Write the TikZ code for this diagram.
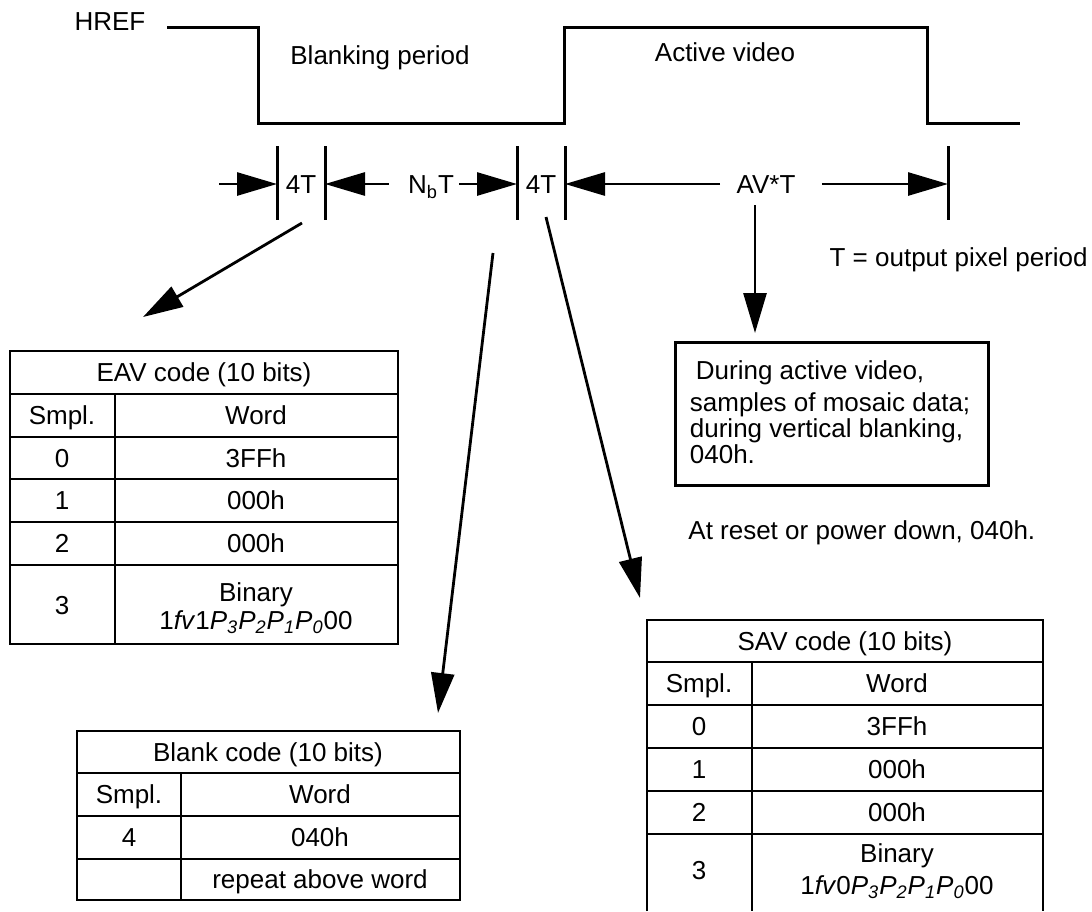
\documentclass[tikz,border=0pt]{standalone}
\usepackage{fontspec}
\setmainfont{Liberation Sans}
\usepackage{tikz}
\usetikzlibrary{arrows.meta,positioning,calc}

\newcommand{\pbit}[1]{\textit{P}\textsubscript{\textit{#1}}}

\begin{document}
\begin{tikzpicture}[
    x=0.5pt, y=-0.5pt,
    wave/.style={line width=1.5pt},
    tick/.style={line width=1.5pt},
    arrow/.style={-{Triangle[length=20pt,width=11.5pt]}, line width=1.4pt},
    grid/.style={line width=1.2pt},
    label/.style={inner sep=0pt, font=\fontsize{13}{14}\selectfont, text height=9.3pt, text depth=0pt},
    cell/.style={label, align=center},
    note/.style={inner sep=0pt, font=\fontsize{13}{13}\selectfont, align=left, anchor=north west}
]
\useasboundingbox (0,0) rectangle (1092,911);

% HREF waveform
\node[label] (href) at (110,21) {HREF};
\draw[wave] (167,27) -- (258,27) -- (258,123) -- (564,123) -- (564,27) -- (927,27) -- (927,123) -- (1020,123);
\node[label] (blanking) at (380,55) {Blanking period};
\node[label] (active) at (725,52) {Active video};

% Timing marks
\foreach \x [count=\i] in {277,325,517,565,948} {
    \draw[tick] (\x,146) -- (\x,220);
    \coordinate (m\i) at (\x,184);
}
\node[label] (eavT) at (301,184) {4T};
\node[label] (nbT) at (431,184) {N\textsubscript{b}T};
\node[label] (savT) at (541,184) {4T};
\node[label] (avT) at (766,184) {AV*T};

\coordinate (start) at (219,184);
\draw[arrow] (start) -- (m1);
\draw[arrow] ([xshift=-9.5pt]nbT.west) -- (m2);
\draw[arrow] ([xshift=2.5pt]nbT.east) -- (m3);
\draw[arrow] ([xshift=-8pt]avT.west) -- (m4);
\draw[arrow] ([xshift=13pt]avT.east) -- (m5);

\node[label, anchor=east] (period) at (1088,257) {T = output pixel period};

% Arrows down to the codes
\coordinate (eavfrom) at (302,223);
\coordinate (eavto) at (143,317);
\coordinate (blankfrom) at (493,253);
\coordinate (blankto) at (438,713);
\coordinate (savfrom) at (546,217);
\coordinate (savto) at (640,598);
\coordinate (avfrom) at (755,205);
\coordinate (avto) at (755,333);
\draw[arrow] (eavfrom) -- (eavto);
\draw[arrow] (blankfrom) -- (blankto);
\draw[arrow] (savfrom) -- (savto);
\draw[arrow] (avfrom) -- (avto);

% Active video box
\node[draw, line width=1.5pt, inner sep=0pt, minimum width=156.5pt, minimum height=71.5pt] (avbox) at (831.5,413.5) {};
\node[note] (avtext) at ([xshift=8pt,yshift=-10pt]avbox.north west)
    {\hspace{3pt}During active video,\\[3pt] samples of mosaic data;\\ during vertical blanking,\\ 040h.};
\node[label, anchor=west] (reset) at (688,530) {At reset or power down, 040h.};

% EAV table
\draw[grid] (10,351) rectangle (398,644);
\foreach \y in {394,437,479,522,565} \draw[grid] (10,\y) -- (398,\y);
\draw[grid] (115,394) -- (115,644);
\node[cell] (eavhead) at (204,372) {EAV code (10 bits)};
\node[cell] (eavs) at (62,415) {Smpl.};
\node[cell] (eavw) at (256,415) {Word};
\foreach \s/\w/\y [count=\i] in {0/3FFh/458,1/000h/500,2/000h/543} {
    \node[cell] (eavs\i) at (62,\y) {\s};
    \node[cell] (eavw\i) at (256,\y) {\w};
}
\node[cell] (eavs4) at (62,605) {3};
\node[cell] (eavbin) at (256,592) {Binary};
\node[cell] (eavw4) at (256,620) {1\textit{fv}1\pbit{3}\pbit{2}\pbit{1}\pbit{0}00};

% Blank table
\draw[grid] (77,731) rectangle (460,900);
\foreach \y in {773,816,859} \draw[grid] (77,\y) -- (460,\y);
\draw[grid] (181,773) -- (181,900);
\node[cell] (blankhead) at (268,752) {Blank code (10 bits)};
\node[cell] (blanks) at (129,794) {Smpl.};
\node[cell] (blankw) at (320,794) {Word};
\node[cell] (blanks1) at (129,837) {4};
\node[cell] (blankw1) at (320,837) {040h};
\node[cell] (blankw2) at (320,879) {repeat above word};

% SAV table
\draw[grid] (647,911) -- (647,620) -- (1043,620) -- (1043,911);
\foreach \y in {662,705,748,791,834} \draw[grid] (647,\y) -- (1043,\y);
\draw[grid] (752,662) -- (752,911);
\node[cell] (savhead) at (845,641) {SAV code (10 bits)};
\node[cell] (savs) at (699,683) {Smpl.};
\node[cell] (savw) at (897,683) {Word};
\foreach \s/\w/\y [count=\i] in {0/3FFh/726,1/000h/769,2/000h/812} {
    \node[cell] (savs\i) at (699,\y) {\s};
    \node[cell] (savw\i) at (897,\y) {\w};
}
\node[cell] (savs4) at (699,870) {3};
\node[cell] (savbin) at (897,853) {Binary};
\node[cell] (savw4) at (897,885) {1\textit{fv}0\pbit{3}\pbit{2}\pbit{1}\pbit{0}00};

\end{tikzpicture}
\end{document}
